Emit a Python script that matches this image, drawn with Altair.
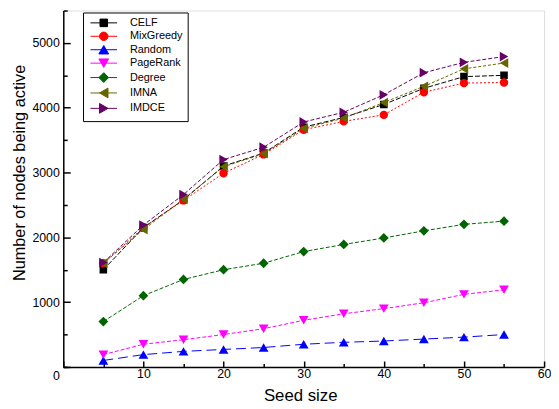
import altair as alt
import pandas as pd

# ---------------- data ----------------
seed = [5, 10, 15, 20, 25, 30, 35, 40, 45, 50, 55]
names = ["CELF", "MixGreedy", "Random", "PageRank", "Degree", "IMNA", "IMDCE"]

celf = [1500, 2150, 2580, 3100, 3300, 3700, 3850, 4050, 4300, 4480, 4500]
mixgreedy = [1600, 2150, 2570, 2990, 3280, 3660, 3790, 3890, 4240, 4380, 4390]
random_ = [100, 190, 240, 270, 300, 350, 380, 400, 430, 460, 500]
pagerank = [190, 350, 420, 500, 590, 720, 820, 900, 990, 1120, 1190]
degree = [700, 1100, 1350, 1500, 1600, 1780, 1890, 1990, 2100, 2200, 2250]
imna = [1600, 2120, 2590, 3090, 3290, 3680, 3840, 4080, 4330, 4600, 4690]
imdce = [1610, 2190, 2660, 3200, 3390, 3780, 3930, 4200, 4540, 4700, 4790]
series_values = [celf, mixgreedy, random_, pagerank, degree, imna, imdce]

x_ticks_major = [0, 10, 20, 30, 40, 50, 60]
x_ticks_minor = [5, 15, 25, 35, 45, 55]
x_labels = [10, 20, 30, 40, 50, 60]
y_labels = [1000, 2000, 3000, 4000, 5000]
y_ticks_major = [0, 1000, 2000, 3000, 4000, 5000]
y_ticks_minor = [0, 500, 1500, 2500, 3500, 4500, 5500]

rows = [
    {"seed": s, "algo": n, "value": v}
    for n, vals in zip(names, series_values)
    for s, v in zip(seed, vals)
]
df = pd.DataFrame(rows)

# ---------------- styles ----------------
colors = ["#000000", "#ff0000", "#0000ff", "#ff00ff", "#006400", "#666600", "#660066"]
dashes = [[5, 2], [2, 2], [10, 5], [4, 2], [4, 2], [3, 2], [4, 2]]
marker_paths = [
    "M-0.85,-0.85H0.85V0.85H-0.85Z",
    "M0.95,0A0.95,0.95 0 1,1 -0.95,0A0.95,0.95 0 1,1 0.95,0Z",
    "M0,-0.95L1.1,0.95L-1.1,0.95Z",
    "M0,0.95L1.1,-0.95L-1.1,-0.95Z",
    "M0,-1.1L1.1,0L0,1.1L-1.1,0Z",
    "M-0.95,0L0.95,-1.1L0.95,1.1Z",
    "M0.95,0L-0.95,-1.1L-0.95,1.1Z",
]
line_part = "M-3,0H3"
shapes = [line_part + p for p in marker_paths]

FONT = "Liberation Sans"
W, H = 487, 361

x_scale = alt.Scale(domain=[0, 60], nice=False, zero=False)
y_scale = alt.Scale(domain=[0, 5500], nice=False)
color_scale = alt.Scale(domain=names, range=colors)
shape_scale = alt.Scale(domain=names, range=shapes)
dash_scale = alt.Scale(domain=names, range=dashes)

legend_cfg = alt.Legend(
    title=None, orient="none", legendX=20, legendY=2, direction="vertical",
    strokeColor="black", fillColor="white", padding=5, cornerRadius=0,
    symbolOffset=10.5, labelOffset=21, rowPadding=0.6,
    labelFont=FONT, labelFontSize=11, labelColor="black",
    symbolSize=81, symbolStrokeWidth=1,
)

axis_common = dict(grid=False, domainColor="black", tickColor="black",
                   labelFont=FONT, titleFont=FONT, labelColor="black",
                   titleColor="black", titleFontWeight="normal")

base = alt.Chart(df)

lines = base.mark_line(strokeWidth=1, opacity=1).encode(
    x=alt.X("seed:Q", scale=x_scale, axis=alt.Axis(
        orient="bottom", values=x_labels, ticks=False, domainWidth=1.5,
        labelFontSize=12.5, labelPadding=1, labelFlush=False, title="Seed size",
        titleFontSize=17, titleX=240, titleY=34, titleBaseline="alphabetic",
        titleAlign="center", **axis_common)),
    y=alt.Y("value:Q", scale=y_scale, axis=alt.Axis(
        orient="left", values=y_labels, ticks=False, domainWidth=1.5, format="d",
        labelFontSize=12.5, labelPadding=4, title="Number of nodes being active",
        titleFontSize=16.5, titleX=-39, titleY=164, titleAngle=-90,
        titleAlign="center", titleBaseline="alphabetic", **axis_common)),
    color=alt.Color("algo:N", scale=color_scale, legend=None),
    strokeDash=alt.StrokeDash("algo:N", scale=dash_scale, legend=None),
)

points = base.mark_point(filled=True, size=81, strokeWidth=0, opacity=1).encode(
    x=alt.X("seed:Q", scale=x_scale, axis=alt.Axis(
        orient="top", offset=-H, values=x_ticks_major, labels=False, domain=False,
        tickSize=6, tickWidth=1.5, title=None, **axis_common)),
    y=alt.Y("value:Q", scale=y_scale, axis=alt.Axis(
        orient="right", offset=-W, values=y_ticks_major, labels=False, domain=False,
        tickSize=7, tickWidth=1.5, title=None, **axis_common)),
    color=alt.Color("algo:N", scale=color_scale, legend=None),
    shape=alt.Shape("algo:N", scale=shape_scale, legend=None),
)

legend_layer = base.transform_filter("false").mark_point(
    filled=True, size=81, strokeWidth=1, opacity=1
).encode(
    x=alt.X("seed:Q", scale=x_scale, axis=alt.Axis(
        orient="top", offset=-H, values=x_ticks_minor, labels=False, domain=False,
        tickSize=3.5, tickWidth=1.5, title=None, **axis_common)),
    y=alt.Y("value:Q", scale=y_scale, axis=alt.Axis(
        orient="right", offset=-W, values=y_ticks_minor, domain=False,
        tickSize=4, tickWidth=1.5, title=None, format="d",
        labelExpr="datum.value == 0 ? '0' : ''", labelAlign="right",
        labelBaseline="top", labelPadding=-8, labelOffset=3, labelFontSize=12.5,
        **axis_common)),
    color=alt.Color("algo:N", scale=color_scale, legend=legend_cfg),
    stroke=alt.Stroke("algo:N", scale=alt.Scale(domain=names, range=colors), legend=legend_cfg),
    shape=alt.Shape("algo:N", scale=shape_scale, legend=legend_cfg),
)

chart = alt.layer(lines, points, legend_layer).resolve_axis(
    x="independent", y="independent"
).resolve_legend(
    color="independent", shape="independent", stroke="independent",
    strokeDash="independent"
).properties(
    width=W, height=H,
    autosize=alt.AutoSizeParams(type="none"),
    padding={"left": 56, "top": 0, "right": 7, "bottom": 36},
).configure_view(stroke=None).configure(background="white")

chart.save("out.html", embed_options={"renderer": "svg", "actions": False})
